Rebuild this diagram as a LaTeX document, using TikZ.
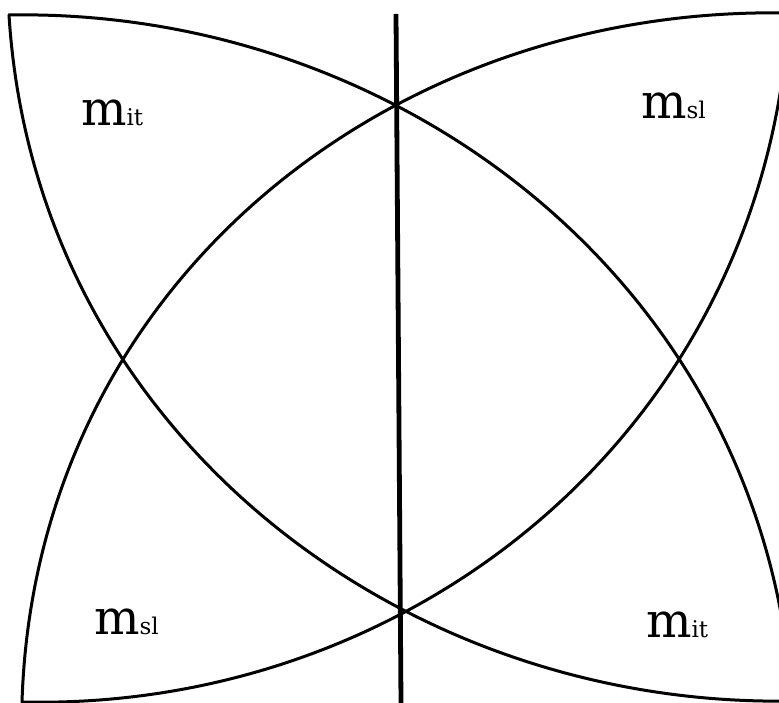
\documentclass[tikz,border=0pt]{standalone}
\usepackage{fontspec}
\setmainfont{DejaVu Serif}
\tikzset{
  arcline/.style={line width=3pt, line join=round, line cap=round},
  axisline/.style={line width=4.8pt},
  lab/.style={anchor=base west, inner sep=0pt, outer sep=0pt}
}
\newcommand\mlabel[1]{{\fontsize{48}{50}\selectfont m}{\fontsize{23}{24}\selectfont #1}}
\begin{document}
\begin{tikzpicture}[x=1pt,y=-1pt]
\useasboundingbox (0,0) rectangle (779,703);
\coordinate (TL) at (9,15);
\coordinate (TR) at (789,13);
\coordinate (BL) at (22,702);
\coordinate (BR) at (792,701);
% arc A: top-left corner -> top edge -> right edge
\draw[arcline] (TL) .. controls (400,8) and (765,285) .. (BR);
% arc B: top-left corner -> left edge -> bottom edge
\draw[arcline] (TL) .. controls (35,431) and (400,708) .. (BR);
% arc C: top-right corner -> top edge -> left edge
\draw[arcline] (TR) .. controls (385,5) and (35,288) .. (BL);
% arc D: top-right corner -> right edge -> bottom edge
\draw[arcline] (TR) .. controls (765,428) and (415,711) .. (BL);
% vertical axis
\coordinate (vtop) at (396,14);
\coordinate (vbot) at (401,703);
\draw[axisline] (vtop) -- (vbot);
% labels
\node[lab] (tl) at (81,126) {\mlabel{it}};
\node[lab] (tr) at (641,119) {\mlabel{sl}};
\node[lab] (bl) at (94,634) {\mlabel{sl}};
\node[lab] (br) at (646,637) {\mlabel{it}};
\end{tikzpicture}
\end{document}
